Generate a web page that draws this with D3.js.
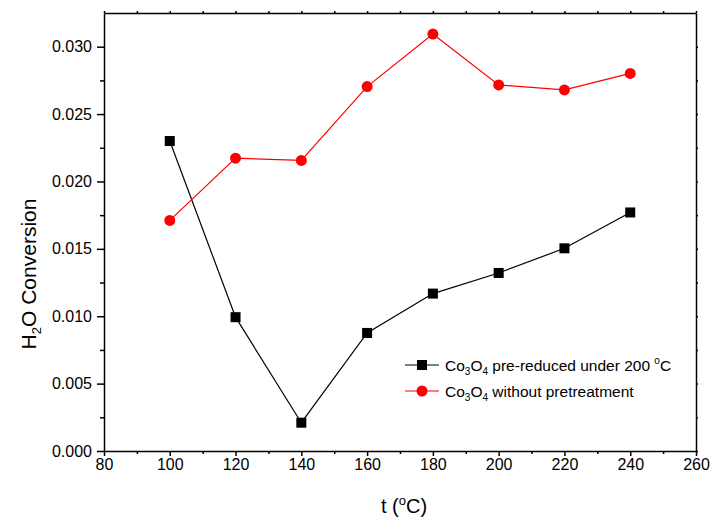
<!DOCTYPE html>
<html>
<head>
<meta charset="utf-8">
<script src="https://cdn.jsdelivr.net/npm/d3@7"></script>
<style>
  body { margin: 0; background: #fff; }
  svg { font-family: "Liberation Sans", Arial, sans-serif; }
  .axis path, .axis line { stroke: #000; stroke-width: 1.5; }
  .axis text { font-size: 16px; fill: #000; }
</style>
</head>
<body>
<svg id="chart" width="711" height="521"></svg>
<script>
// data
const temps = [100, 120, 140, 160, 180, 200, 220, 240];
const preReduced = [0.0230, 0.00993, 0.0021, 0.00876, 0.01168, 0.01321, 0.01504, 0.0177];
const noPretreat = [0.01711, 0.02173, 0.02156, 0.02704, 0.03094, 0.02716, 0.02679, 0.02802];
const xTicks = [80, 100, 120, 140, 160, 180, 200, 220, 240, 260];
const yTicks = [0, 0.005, 0.010, 0.015, 0.020, 0.025, 0.030];

const margin = { top: 13, right: 15, bottom: 70, left: 104 };
const width = 711 - margin.left - margin.right;
const height = 521 - margin.top - margin.bottom;

const svg = d3.select("#chart");
const g = svg.append("g").attr("transform", "translate(" + margin.left + "," + margin.top + ")");

const x = d3.scaleLinear().domain([80, 260]).range([0, width]);
const y = d3.scaleLinear().domain([0, 0.0325]).range([height, 0]);

// minor ticks first so the major ones sit on top
const xMinor = d3.range(90, 260, 20);
const yMinor = d3.range(0.0025, 0.0325, 0.005);

g.append("g").attr("class", "axis")
  .attr("transform", "translate(0," + height + ")")
  .call(d3.axisBottom(x).tickValues(xMinor).tickSize(3).tickFormat(""))
  .select(".domain").remove();
g.append("g").attr("class", "axis")
  .call(d3.axisLeft(y).tickValues(yMinor).tickSize(4).tickFormat(""))
  .select(".domain").remove();

g.append("g").attr("class", "axis")
  .attr("transform", "translate(0," + height + ")")
  .call(d3.axisBottom(x).tickValues(xTicks).tickSize(5).tickSizeOuter(0).tickPadding(3));

g.append("g").attr("class", "axis")
  .call(d3.axisLeft(y).tickValues(yTicks).tickSize(7).tickSizeOuter(0).tickPadding(5)
    .tickFormat(d3.format(".3f")));

// top and right frame with tiny ticks
g.append("g").attr("class", "axis")
  .call(d3.axisTop(x).tickValues(d3.range(80, 261, 10)).tickSize(2).tickSizeOuter(0).tickFormat(""));
g.append("g").attr("class", "axis")
  .attr("transform", "translate(" + width + ",0)")
  .call(d3.axisRight(y).tickValues(d3.range(0, 0.0325, 0.0025)).tickSize(2).tickSizeOuter(0).tickFormat(""));

const series = [
  { name: "pre", values: preReduced, color: "#000000", shape: "square" },
  { name: "no", values: noPretreat, color: "#ff0000", shape: "circle" }
];

const line = d3.line().x(d => x(d[0])).y(d => y(d[1]));

series.forEach(s => {
  const pts = temps.map((t, i) => [t, s.values[i]]);
  g.append("path")
    .datum(pts)
    .attr("fill", "none")
    .attr("stroke", s.color)
    .attr("stroke-width", 1.2)
    .attr("d", line);

  if (s.shape === "square") {
    g.selectAll(".sq").data(pts).enter().append("rect")
      .attr("x", d => x(d[0]) - 5)
      .attr("y", d => y(d[1]) - 5)
      .attr("width", 10).attr("height", 10)
      .attr("fill", s.color);
  } else {
    g.selectAll(".ci").data(pts).enter().append("circle")
      .attr("cx", d => x(d[0]))
      .attr("cy", d => y(d[1]))
      .attr("r", 5.5)
      .attr("fill", s.color);
  }
});

// legend
const legend = svg.append("g").attr("transform", "translate(405,365)");
const legendRows = [
  { color: "#000000", shape: "square", text: [["Co", 0], ["3", 1], ["O", 0], ["4", 1], [" pre-reduced under 200 ", 0], ["o", 2], ["C", 0]] },
  { color: "#ff0000", shape: "circle", text: [["Co", 0], ["3", 1], ["O", 0], ["4", 1], [" without pretreatment", 0]] }
];
legendRows.forEach((r, i) => {
  const row = legend.append("g").attr("transform", "translate(0," + (i * 26) + ")");
  row.append("line").attr("x1", 0).attr("x2", 34).attr("y1", 0).attr("y2", 0)
    .attr("stroke", r.color).attr("stroke-width", 1.2);
  if (r.shape === "square") {
    row.append("rect").attr("x", 12).attr("y", -5).attr("width", 10).attr("height", 10).attr("fill", r.color);
  } else {
    row.append("circle").attr("cx", 17).attr("cy", 0).attr("r", 5.5).attr("fill", r.color);
  }
  const t = row.append("text").attr("x", 40).attr("y", 5.5).attr("font-size", 15.5).attr("fill", "#000");
  r.text.forEach((p, k) => {
    const prev = k > 0 ? r.text[k - 1][1] : 0;
    let dy = 0;
    if (p[1] === 1) dy = prev === 1 ? 0 : 4;
    else if (p[1] === 2) dy = prev === 2 ? 0 : -7;
    else dy = prev === 1 ? -4 : (prev === 2 ? 7 : 0);
    const sp = t.append("tspan").text(p[0]).attr("dy", dy);
    if (p[1] !== 0) sp.attr("font-size", 10);
  });
});

// axis titles
const xt = svg.append("text")
  .attr("x", margin.left + width / 2 + 4)
  .attr("y", 513)
  .attr("text-anchor", "middle")
  .attr("font-size", 20);
xt.append("tspan").text("t (");
xt.append("tspan").text("o").attr("font-size", 13).attr("dy", -8);
xt.append("tspan").text("C)").attr("dy", 8);

const yt = svg.append("text")
  .attr("transform", "translate(36," + (margin.top + height / 2 + 42) + ") rotate(-90)")
  .attr("text-anchor", "middle")
  .attr("font-size", 21);
yt.append("tspan").text("H");
yt.append("tspan").text("2").attr("font-size", 13).attr("dy", 5);
yt.append("tspan").text("O Conversion").attr("dy", -5);
</script>
</body>
</html>
